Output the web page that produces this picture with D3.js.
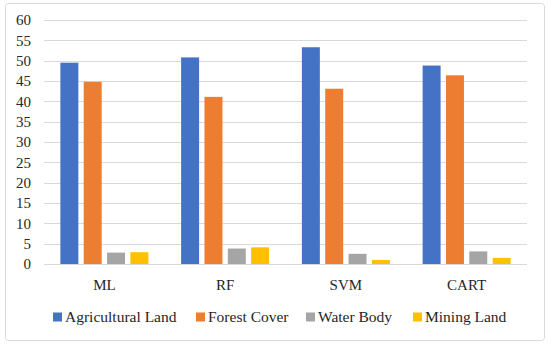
<!DOCTYPE html>
<html>
<meta charset="utf-8">
<head>
<style>
    body { margin: 0; background: white; }
    svg text { font-family: "Liberation Serif", serif; fill: #262626; }
    .grid line { stroke: #d9d9d9; stroke-width: 1px; }
    .label_y { font-size: 15px; text-anchor: end; }
    .label_x { font-size: 15px; text-anchor: middle; }
    .legend text { font-size: 15.5px; }
</style>
</head>
<body>
<div id="viz"></div>
<script src="https://cdn.jsdelivr.net/npm/d3@7"></script>
<script>
const width = 550;
const height = 347;

const categories = ['ML', 'RF', 'SVM', 'CART'];
const series = ['Agricultural Land', 'Forest Cover', 'Water Body', 'Mining Land'];
const colours = ['#4472c4', '#ed7d31', '#a5a5a5', '#ffc000'];
const agricultural = [49.5, 50.8, 53.3, 48.8];
const forest = [44.8, 41.1, 43.1, 46.4];
const water = [2.8, 3.8, 2.5, 3.1];
const mining = [2.9, 4.1, 1.0, 1.5];
const y_ticks = [0, 5, 10, 15, 20, 25, 30, 35, 40, 45, 50, 55, 60];

const values = [agricultural, forest, water, mining];

const margin = { top: 20, left: 44, right: 23, bottom: 83 };

const svg = d3.select("#viz")
    .append("svg")
    .attr("width", width)
    .attr("height", height);

// chart border
svg.append("rect")
    .attr("x", 5.5)
    .attr("y", 3.5)
    .attr("width", 539)
    .attr("height", 337)
    .attr("rx", 3)
    .attr("fill", "white")
    .attr("stroke", "#d9d9d9");

const x = d3.scaleBand()
    .domain(categories)
    .range([margin.left, width - margin.right]);

const x_inner = d3.scaleBand()
    .domain(series)
    .range([0, 88])
    .paddingInner(0.23);

const y = d3.scaleLinear()
    .domain([0, 60])
    .range([height - margin.bottom, margin.top]);

const grid = svg.append("g").attr("class", "grid");
grid.selectAll("line")
    .data(y_ticks)
    .enter()
    .append("line")
    .attr("x1", margin.left)
    .attr("x2", width - margin.right)
    .attr("y1", d => Math.round(y(d)) + 0.5)
    .attr("y2", d => Math.round(y(d)) + 0.5);

svg.selectAll(".label_y")
    .data(y_ticks)
    .enter()
    .append("text")
    .attr("class", "label_y")
    .attr("x", 31)
    .attr("y", d => y(d))
    .attr("dy", ".35em")
    .text(d => d);

const groups = svg.selectAll(".group")
    .data(categories)
    .enter()
    .append("g")
    .attr("class", "group")
    .attr("transform", d => "translate(" + (x(d) + x.bandwidth() / 2 - 44) + ",0)");

groups.selectAll("rect")
    .data((d, i) => series.map((s, j) => ({ s: s, j: j, v: values[j][i] })))
    .enter()
    .append("rect")
    .attr("x", d => x_inner(d.s))
    .attr("width", x_inner.bandwidth())
    .attr("y", d => y(d.v))
    .attr("height", d => y(0) - y(d.v))
    .attr("fill", d => colours[d.j]);

svg.selectAll(".label_x")
    .data(categories)
    .enter()
    .append("text")
    .attr("class", "label_x")
    .attr("x", d => x(d) + x.bandwidth() / 2)
    .attr("y", 285)
    .attr("dy", ".35em")
    .text(d => d);

// legend
const legend_x = [53, 196, 306, 413];
const legend = svg.append("g").attr("class", "legend");
const items = legend.selectAll("g")
    .data(series)
    .enter()
    .append("g")
    .attr("transform", (d, i) => "translate(" + legend_x[i] + ",317)");

items.append("rect")
    .attr("x", 0)
    .attr("y", -4.5)
    .attr("width", 9)
    .attr("height", 9)
    .attr("fill", (d, i) => colours[i]);

items.append("text")
    .attr("x", 12)
    .attr("dy", ".35em")
    .text(d => d);
</script>
</body>
</html>
